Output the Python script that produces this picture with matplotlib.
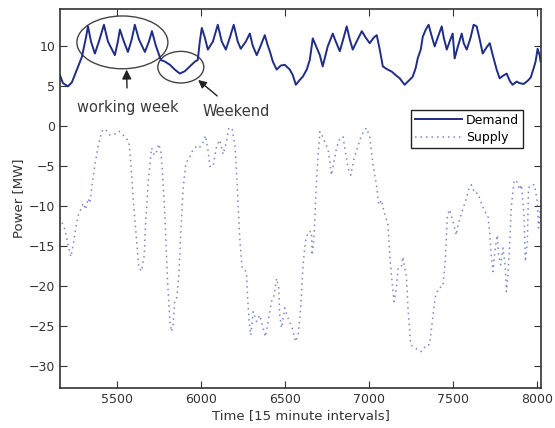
import matplotlib
matplotlib.use("Agg")
import matplotlib.pyplot as plt
from matplotlib.patches import Ellipse

# Demand (time index, MW)
demand_t = [5160, 5178, 5208, 5231, 5261, 5291, 5315, 5327, 5345, 5368, 5392, 5422, 5446,
            5487, 5505, 5517, 5541, 5565, 5588, 5606, 5630, 5666, 5690, 5708, 5731, 5761,
            5785, 5815, 5844, 5874, 5904, 5934, 5964, 5981, 5993, 6005, 6023, 6041, 6071,
            6100, 6124, 6148, 6172, 6195, 6219, 6237, 6267, 6291, 6308, 6332, 6356, 6380,
            6398, 6410, 6428, 6451, 6475, 6499, 6529, 6547, 6565, 6588, 6606, 6630, 6648,
            6666, 6684, 6708, 6725, 6755, 6785, 6803, 6827, 6850, 6868, 6886, 6904, 6934,
            6958, 6981, 7005, 7029, 7047, 7065, 7083, 7112, 7136, 7160, 7184, 7213, 7237,
            7261, 7279, 7291, 7309, 7321, 7339, 7356, 7374, 7392, 7410, 7434, 7446, 7464,
            7481, 7499, 7511, 7529, 7553, 7565, 7583, 7606, 7624, 7642, 7660, 7678, 7702,
            7720, 7738, 7761, 7779, 7797, 7821, 7839, 7856, 7880, 7898, 7922, 7946, 7964,
            7982, 7993, 8005, 8017, 8023]
demand_mw = [6.3, 5.3, 4.9, 5.4, 7.0, 8.6, 11.0, 12.4, 10.5, 9.0, 10.5, 12.6, 10.5,
             8.8, 10.5, 12.0, 10.5, 9.2, 10.8, 12.6, 10.8, 9.2, 10.5, 11.8, 10.0, 8.2,
             8.0, 7.6, 7.0, 6.5, 6.8, 7.4, 8.0, 8.2, 10.5, 12.2, 11.0, 9.5, 10.5,
             12.6, 10.5, 9.5, 11.0, 12.6, 10.5, 9.6, 10.5, 11.5, 10.0, 8.8, 10.0, 11.3,
             10.0, 9.3, 8.0, 7.0, 7.5, 7.6, 7.0, 6.3, 5.1, 5.7, 6.1, 7.0, 8.2,
             10.9, 10.0, 8.8, 7.4, 9.9, 11.5, 10.5, 9.3, 11.0, 12.4, 10.8, 9.5, 10.8,
             11.8, 11.0, 10.3, 11.0, 11.3, 9.5, 7.4, 7.0, 6.75, 6.3, 5.9, 5.1, 5.6,
             6.1, 7.2, 8.4, 9.5, 11.1, 12.0, 12.6, 11.2, 9.9, 11.0, 12.4, 11.0, 9.5,
             10.5, 11.5, 8.4, 9.8, 11.5, 10.3, 9.5, 11.0, 12.6, 12.4, 10.8, 9.0, 9.8,
             10.3, 8.8, 7.0, 5.9, 6.2, 6.5, 5.6, 5.1, 5.5, 5.3, 5.2, 5.6, 6.0,
             7.2, 8.0, 9.6, 8.8, 8.0]

# Supply (time index, MW)
supply_t = [5160, 5166, 5190, 5206, 5225, 5239, 5253, 5269, 5299, 5313, 5328, 5339, 5349, 5368,
            5388, 5408, 5428, 5458, 5483, 5511, 5547, 5571, 5583, 5596, 5617, 5630, 5646,
            5662, 5670, 5686, 5706, 5721, 5736, 5749, 5761, 5769, 5785, 5801, 5815, 5825,
            5834, 5844, 5856, 5868, 5880, 5894, 5910, 5934, 5953, 5974, 5987, 6007, 6027,
            6043, 6053, 6072, 6093, 6112, 6132, 6152, 6166, 6186, 6202, 6212, 6221, 6231,
            6245, 6271, 6277, 6287, 6297, 6311, 6331, 6350, 6370, 6384, 6400, 6420, 6436,
            6450, 6463, 6469, 6480, 6499, 6519, 6543, 6563, 6578, 6594, 6608, 6622, 6638,
            6658, 6662, 6674, 6682, 6694, 6708, 6721, 6737, 6757, 6767, 6777, 6793, 6807,
            6827, 6846, 6860, 6876, 6892, 6912, 6932, 6956, 6985, 7005, 7025, 7045, 7059,
            7075, 7090, 7114, 7124, 7138, 7150, 7164, 7174, 7194, 7203, 7224, 7233, 7249,
            7273, 7313, 7343, 7362, 7382, 7396, 7416, 7441, 7456, 7468, 7481, 7501, 7521,
            7531, 7555, 7575, 7594, 7610, 7630, 7650, 7666, 7690, 7709, 7719, 7729, 7739,
            7753, 7765, 7773, 7785, 7799, 7813, 7819, 7828, 7838, 7848, 7864, 7877, 7898,
            7908, 7924, 7932, 7944, 7951, 7967, 7987, 8003, 8011, 8027]
supply_mw = [-11.5, -11.8, -13.0, -14.7, -16.4, -14.9, -13.0, -11.2, -9.7, -10.5, -9.1, -9.7, -7.8, -4.9,
             -2.6, -0.75, -0.4, -1.2, -1.1, -0.7, -1.4, -2.0, -4.9, -9.1, -14.5, -17.8, -18.2,
             -16.2, -12.4, -7.0, -2.8, -3.7, -3.25, -2.3, -3.25, -5.3, -11.2, -19.5, -24.5, -25.75,
             -24.9, -21.8, -21.5, -18.7, -13.25, -7.8, -4.7, -3.9, -3.0, -2.6, -2.8, -2.4, -1.25,
             -3.25, -5.1, -5.1, -2.6, -1.8, -3.6, -2.0, -0.25, -0.5, -2.4, -5.75, -9.9, -14.1,
             -17.8, -18.25, -21.2, -24.5, -26.2, -23.25, -24.5, -23.7, -25.3, -26.4, -24.5, -22.0, -21.2,
             -19.1, -20.3, -23.7, -25.3, -22.8, -24.1, -25.3, -27.0, -26.2, -22.8, -17.4, -14.5, -13.25,
             -13.25, -16.2, -13.7, -9.5, -4.9, -0.75, -1.2, -2.0, -3.0, -4.5, -6.2, -4.5, -2.8,
             -1.6, -1.4, -3.25, -5.3, -6.2, -4.1, -2.8, -1.2, -0.3, -1.4, -4.9, -7.4, -9.9,
             -9.3, -10.75, -12.4, -16.2, -19.5, -22.0, -20.3, -17.8, -17.6, -16.4, -19.1, -22.8, -27.4,
             -27.8, -28.25, -27.4, -27.4, -23.7, -21.4, -20.3, -20.1, -16.6, -11.2, -10.5, -12.0, -13.7,
             -12.4, -10.75, -9.5, -8.0, -7.4, -8.45, -8.45, -9.5, -10.75, -11.2, -13.25, -16.2, -18.25,
             -15.3, -13.7, -16.2, -17.4, -15.3, -17.8, -20.75, -18.7, -15.3, -10.3, -7.0, -6.8, -8.0,
             -7.4, -11.2, -17.0, -14.5, -7.8, -7.4, -7.4, -9.5, -12.8, -9.1]

x_ticks = [5500, 6000, 6500, 7000, 7500, 8000]
y_ticks = [-30, -25, -20, -15, -10, -5, 0, 5, 10]

fig = plt.figure(figsize=(5.55, 4.28), dpi=100)
ax = fig.add_axes([0.108, 0.0935, 0.867, 0.886])

ax.plot(demand_t, demand_mw, color='#1f2d86', lw=1.4, label='Demand')
ax.plot(supply_t, supply_mw, color='#7b88cc', lw=1.1, ls=(0, (1, 2.6)), label='Supply')

ax.set_xlim(5160, 8026)
ax.set_ylim(-32.8, 14.6)
ax.set_xticks(x_ticks)
ax.set_yticks(y_ticks)
ax.tick_params(direction='in', top=True, right=True, labelsize=9, length=5, colors='#333333')
for s in ax.spines.values():
    s.set_color('#333333')
    s.set_linewidth(1.2)

ax.set_xlabel('Time [15 minute intervals]', fontsize=9.5, color='#333333', labelpad=2)
ax.set_ylabel('Power [MW]', fontsize=9.5, color='#333333', labelpad=3)

# annotations
ax.add_patch(Ellipse((5532, 10.4), 542, 6.6, fill=False, ec='#444444', lw=1.0))
ax.add_patch(Ellipse((5880, 7.3), 274, 3.95, fill=False, ec='#444444', lw=1.0))
ax.annotate('working week', xy=(5557, 7.0), xytext=(5562, 2.2), ha='center', va='center',
            fontsize=10.5, color='#3a3a3a',
            arrowprops=dict(arrowstyle='-|>', color='#222222', lw=1.0, mutation_scale=14,
                            shrinkA=7, shrinkB=0))
ax.annotate('Weekend', xy=(5983, 5.7), xytext=(6208, 1.75), ha='center', va='center',
            fontsize=10.5, color='#3a3a3a',
            arrowprops=dict(arrowstyle='-|>', color='#222222', lw=1.0, mutation_scale=12,
                            shrinkA=6, shrinkB=0))

leg = ax.legend(loc='upper right', bbox_to_anchor=(0.962, 0.733), fontsize=9,
                frameon=True, fancybox=False, framealpha=1, edgecolor='#222222',
                handlelength=3.8, borderpad=0.3, labelspacing=0.35, handletextpad=0.3,
                borderaxespad=0)
leg.get_frame().set_linewidth(1.0)

fig.savefig('out.png', dpi=100)
